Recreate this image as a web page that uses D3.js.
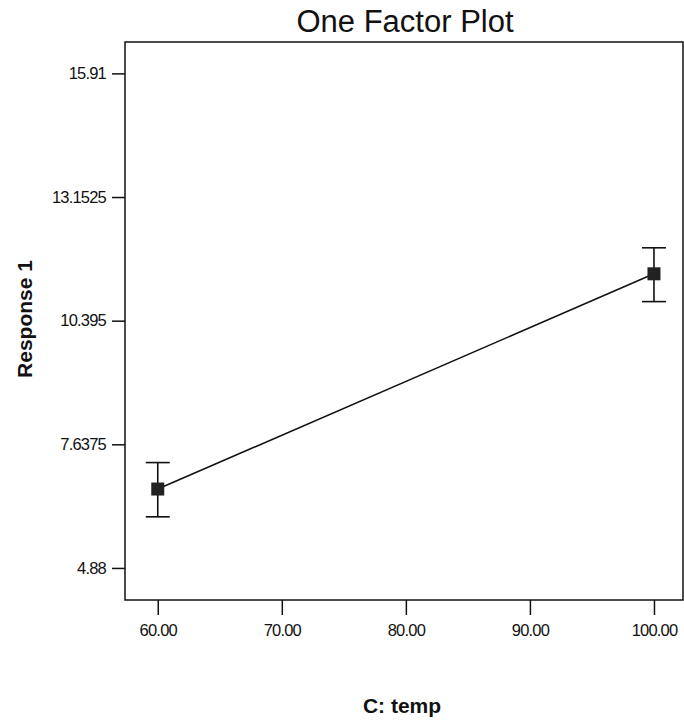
<!DOCTYPE html>
<html>
<head>
<meta charset="utf-8">
<script src="https://cdn.jsdelivr.net/npm/d3@7"></script>
<style>
  body { margin: 0; background: #fff; }
  svg { display: block; }
  text { font-family: "Liberation Sans", Arial, sans-serif; fill: #111; }
</style>
</head>
<body>
<svg id="chart" width="684" height="725"></svg>
<script>
// Factor levels and predicted response with its uncertainty
const factorLevels = [60, 100];
const responseMeans = [6.64, 11.44];
const responseLow = [6.02, 10.82];
const responseHigh = [7.23, 12.02];

// Axis ticks
const yTicks = [4.88, 7.6375, 10.395, 13.1525, 15.91];
const yTickLabels = ["4.88", "7.6375", "10.395", "13.1525", "15.91"];
const xTicks = [60, 70, 80, 90, 100];
const xTickLabels = ["60.00", "70.00", "80.00", "90.00", "100.00"];

const svg = d3.select("#chart");
const frame = { left: 125, right: 683, top: 42, bottom: 600 };

const x = d3.scaleLinear().domain([57.36, 102.34]).range([frame.left, frame.right]);
const y = d3.scaleLinear().domain([4.165, 16.61]).range([frame.bottom, frame.top]);

// Plot frame
svg.append("rect")
  .attr("x", frame.left).attr("y", frame.top)
  .attr("width", frame.right - frame.left).attr("height", frame.bottom - frame.top)
  .attr("fill", "none").attr("stroke", "#111").attr("stroke-width", 1.5);

// Tick labels use a tight, slightly condensed look
function styleTickText(sel) {
  sel.style("font-size", "16.5px").style("letter-spacing", "-0.8px").attr("fill", "#111");
}

// Y axis
const yAxis = d3.axisLeft(y)
  .tickValues(yTicks)
  .tickFormat((d, i) => yTickLabels[i])
  .tickSize(13).tickPadding(6);
const gy = svg.append("g").attr("transform", `translate(${frame.left},0)`).call(yAxis);
gy.select(".domain").remove();
gy.selectAll(".tick line").attr("stroke", "#111").attr("stroke-width", 1.5);
gy.selectAll(".tick text").call(styleTickText);

// X axis
const xAxis = d3.axisBottom(x)
  .tickValues(xTicks)
  .tickFormat((d, i) => xTickLabels[i])
  .tickSize(15).tickPadding(9);
const gx = svg.append("g").attr("transform", `translate(0,${frame.bottom})`).call(xAxis);
gx.select(".domain").remove();
gx.selectAll(".tick line").attr("stroke", "#111").attr("stroke-width", 1.5);
gx.selectAll(".tick text").call(styleTickText);

// Connecting line
const pts = factorLevels.map((f, i) => ({ f, m: responseMeans[i], lo: responseLow[i], hi: responseHigh[i] }));
svg.append("path")
  .datum(pts)
  .attr("fill", "none").attr("stroke", "#111").attr("stroke-width", 1.6)
  .attr("d", d3.line().x(d => x(d.f)).y(d => y(d.m)));

// Error bars
const eb = svg.append("g").attr("stroke", "#111").attr("stroke-width", 1.6);
pts.forEach(d => {
  eb.append("line").attr("x1", x(d.f)).attr("x2", x(d.f)).attr("y1", y(d.lo)).attr("y2", y(d.hi));
  eb.append("line").attr("x1", x(d.f) - 12).attr("x2", x(d.f) + 12).attr("y1", y(d.lo)).attr("y2", y(d.lo));
  eb.append("line").attr("x1", x(d.f) - 12).attr("x2", x(d.f) + 12).attr("y1", y(d.hi)).attr("y2", y(d.hi));
});

// Markers
svg.append("g").selectAll("rect").data(pts).join("rect")
  .attr("x", d => x(d.f) - 6.5).attr("y", d => y(d.m) - 6.5)
  .attr("width", 13).attr("height", 13)
  .attr("fill", "#222");

// Titles
svg.append("text").attr("x", 405).attr("y", 32).attr("text-anchor", "middle")
  .style("font-size", "31px").text("One Factor Plot");
svg.append("text").attr("x", 402).attr("y", 713).attr("text-anchor", "middle")
  .style("font-size", "21px").style("font-weight", "bold").text("C: temp");
svg.append("text").attr("transform", "translate(32,319) rotate(-90)").attr("text-anchor", "middle")
  .style("font-size", "21px").style("font-weight", "bold").text("Response 1");
</script>
</body>
</html>
